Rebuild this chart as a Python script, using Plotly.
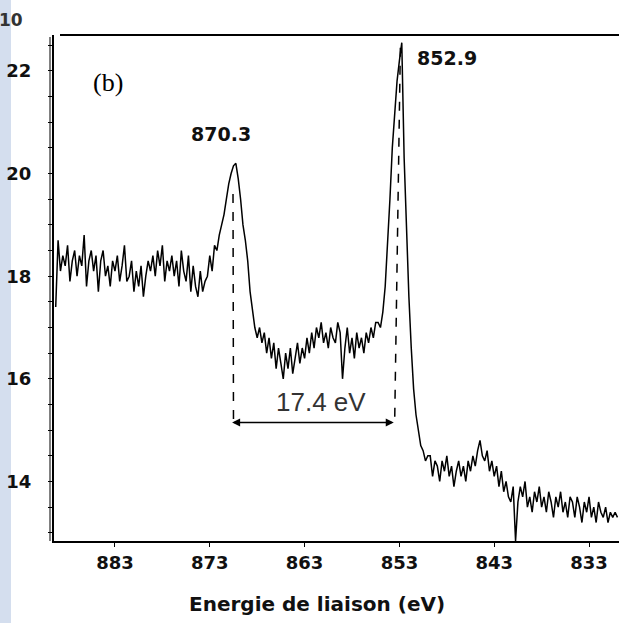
import plotly.graph_objects as go

# XPS Ni 2p spectrum (energy step 0.25 eV, each block has its start energy)
step = 0.25

bgHigh_start = 889.25
bgHigh = [17.4, 18.7, 18.1, 18.4, 18.2, 18.6, 17.9, 18.3, 18.5, 18.0,
          18.4, 18.2, 18.8, 17.8, 18.3, 18.5, 18.1, 18.4, 17.7, 18.3,
          18.5, 18.0, 18.2, 17.8, 18.3, 18.1, 18.4, 17.9, 18.2, 18.6,
          17.9, 18.0, 18.3, 17.7, 18.1, 17.8, 18.2, 17.6, 18.0, 18.3,
          18.1, 18.4, 18.0, 18.5, 18.2, 18.6, 17.9, 18.3, 18.1, 18.4,
          18.0, 18.3, 17.8, 18.5, 18.1, 17.9, 18.4, 17.7, 18.2, 17.8,
          17.6, 18.1, 17.7, 17.9]

peak2p1_start = 873.25
peak2p1 = [18.0, 18.4, 18.1, 18.6, 18.5, 18.8, 19.0, 19.2, 19.5, 19.8,
           20.0, 20.15, 20.2, 19.9, 19.5, 19.0, 18.7, 18.3, 17.7, 17.3,
           17.0, 16.8]

valley_start = 867.75
valley = [17.0, 16.7, 16.9, 16.5, 16.8, 16.4, 16.7, 16.2, 16.6, 16.3,
          16.0, 16.5, 16.2, 16.6, 16.1, 16.4, 16.7, 16.3, 16.6, 16.4,
          16.8, 16.5, 16.9, 16.6, 17.0, 16.8, 17.1, 16.7, 16.9, 16.6,
          17.0, 16.8, 16.7, 17.1, 16.9, 16.0, 16.6, 17.0, 16.5, 16.8,
          16.4, 16.9, 16.6, 16.8, 16.5, 16.9, 16.7, 17.0, 16.8, 17.1,
          17.1, 17.0, 17.3, 17.8, 18.6]

peak2p3_start = 854.0
peak2p3 = [19.5, 20.5, 21.1, 21.8, 22.2, 22.55, 20.3, 18.9, 17.6, 16.6,
           15.8, 15.3, 15.0, 14.7, 14.6, 14.4, 14.5]

tail_start = 849.75
tail = [14.5, 14.1, 14.4, 14.3, 14.0, 14.4, 14.2, 14.5, 14.1, 14.3,
        13.9, 14.2, 14.4, 14.1, 14.3, 14.0, 14.4, 14.2, 14.5, 14.3,
        14.6, 14.8, 14.5, 14.4, 14.6, 14.2, 14.4, 14.1, 14.3, 13.9,
        14.2, 13.8, 14.0, 13.7, 13.6, 13.9, 12.84, 13.6, 13.9, 13.7,
        14.0, 13.5, 13.7, 13.4, 13.8, 13.6, 13.9, 13.5, 13.7, 13.4,
        13.8, 13.6, 13.3, 13.7, 13.5, 13.8, 13.4, 13.6, 13.3, 13.7,
        13.6, 13.3, 13.7, 13.5, 13.2, 13.6, 13.4, 13.7, 13.3, 13.5,
        13.2, 13.6, 13.4, 13.3, 13.5, 13.2, 13.4, 13.3, 13.4, 13.3]

peaks = [870.3, 852.9]
xTicks = [883, 873, 863, 853, 843, 833]
arrowLevel = 15.15

blocks = [(bgHigh_start, bgHigh), (peak2p1_start, peak2p1), (valley_start, valley),
          (peak2p3_start, peak2p3), (tail_start, tail)]
energy, intensity = [], []
for start, vals in blocks:
    energy += [round(start - step * i, 2) for i in range(len(vals))]
    intensity += vals


def peakHeight(e0):
    near = [v for e, v in zip(energy, intensity) if abs(e - e0) <= 0.5]
    return max(near)


boldFont = dict(family='DejaVu Sans', size=18, color='#111111', weight='bold')

fig = go.Figure()
fig.add_trace(go.Scatter(x=energy, y=intensity, mode='lines',
                         line=dict(color='black', width=1.5), hoverinfo='skip'))

# dashed drop lines from the peaks
fig.add_shape(type='line', x0=peaks[0] + 0.25, y0=peakHeight(peaks[0]) - 0.6,
              x1=peaks[0] + 0.2, y1=arrowLevel,
              line=dict(color='black', width=1.5, dash='dash'))
fig.add_shape(type='line', x0=peaks[1], y0=peakHeight(peaks[1]) - 0.1,
              x1=peaks[1] + 0.6, y1=arrowLevel,
              line=dict(color='black', width=1.5, dash='dash'))

# double arrow with splitting
fig.add_annotation(x=peaks[1] + 0.7, y=arrowLevel, ax=peaks[0] + 0.5, ay=arrowLevel,
                   xref='x', yref='y', axref='x', ayref='y', text='',
                   showarrow=True, arrowside='end+start', arrowhead=2,
                   arrowsize=1, arrowwidth=1.6, arrowcolor='black')
fig.add_annotation(x=(peaks[0] + peaks[1]) / 2, y=arrowLevel, yshift=20, xshift=3,
                   text=f'{peaks[0] - peaks[1]:.1f} eV', showarrow=False,
                   font=dict(family='Liberation Sans', size=26, color='#333333'))

# peak labels
fig.add_annotation(x=peaks[0], y=peakHeight(peaks[0]), xshift=-14, yshift=29,
                   text=f'{peaks[0]}', showarrow=False,
                   font=dict(family='DejaVu Sans', size=19, color='#111111', weight='bold'))
fig.add_annotation(x=peaks[1], y=peakHeight(peaks[1]), xshift=47, yshift=-15,
                   text=f'{peaks[1]}', showarrow=False,
                   font=dict(family='DejaVu Sans', size=19, color='#111111', weight='bold'))

fig.add_annotation(x=(108 - 54) / 565, y=(541 - 82) / 506, xref='paper', yref='paper',
                   xanchor='center', yanchor='middle', text='(b)', showarrow=False,
                   font=dict(family='Liberation Serif', size=26, color='black'))

fig.add_annotation(x=(317 - 54) / 565, y=(541 - 604) / 506, xref='paper', yref='paper',
                   xanchor='center', yanchor='middle',
                   text='Energie de liaison (eV)', showarrow=False,
                   font=dict(family='DejaVu Sans', size=20, color='#111111', weight='bold'))

# leftover bits of the page: blue strip and a cut label
fig.add_shape(type='rect', xref='paper', yref='paper', x0=-54 / 565, x1=(11 - 54) / 565,
              y0=(541 - 623) / 506, y1=541 / 506, fillcolor='#d4deee', line_width=0,
              layer='below')
fig.add_annotation(x=(25 - 54) / 565, y=(541 - 20) / 506, xref='paper', yref='paper',
                   xanchor='right', yanchor='middle', text='10', showarrow=False,
                   font=dict(family='DejaVu Sans', size=17, color='#333333', weight='bold'))

# frame: top line and the doubled left axis
fig.add_shape(type='line', xref='paper', yref='paper', x0=6 / 565, x1=1, y0=1, y1=1,
              line=dict(color='black', width=2))
fig.add_shape(type='line', xref='paper', yref='paper', x0=-4 / 565, x1=-4 / 565,
              y0=0, y1=(541 - 37) / 506, line=dict(color='black', width=1))

fig.update_layout(
    width=619, height=623,
    margin=dict(l=54, r=0, t=35, b=82),
    paper_bgcolor='white', plot_bgcolor='white',
    showlegend=False,
    xaxis=dict(range=[889.43, 829.84], tickvals=xTicks, ticks='outside', ticklen=4,
               tickcolor='black', showline=True, linecolor='black', linewidth=2,
               showgrid=False, zeroline=False, tickfont=boldFont),
    yaxis=dict(range=[12.84, 22.70], tick0=0, dtick=2, ticks='outside', ticklen=4,
               tickcolor='black', showline=True, linecolor='black', linewidth=2,
               showgrid=False, zeroline=False, tickfont=boldFont, ticklabelstandoff=13,
               minor=dict(dtick=0.5, ticks='outside', ticklen=4, tickcolor='black')),
)

# page margin off so the figure sits at the window corner
fig.write_html("out.html", config=dict(displayModeBar=False),
               post_script="document.body.style.margin = '0';")
